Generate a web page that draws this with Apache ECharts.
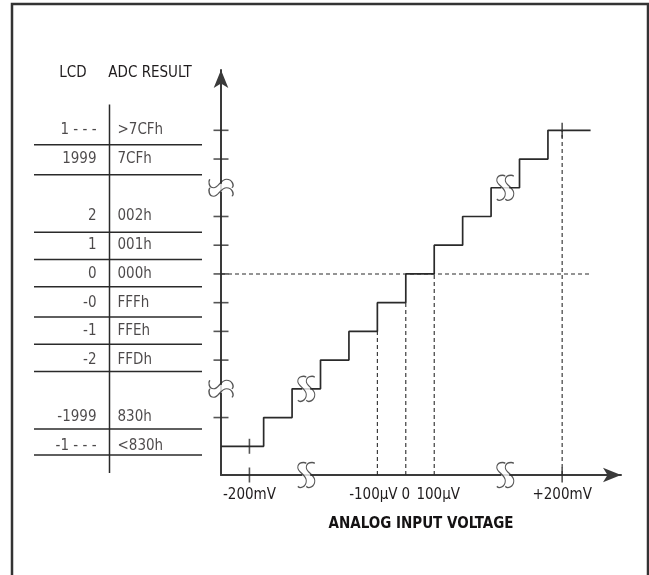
<!DOCTYPE html>
<html>
<head>
<meta charset="utf-8">
<script src="https://cdn.jsdelivr.net/npm/echarts@6/dist/echarts.min.js"></script>
<style>
html, body { margin: 0; padding: 0; background: #fff; }
#chart { width: 649px; height: 575px; }
</style>
</head>
<body>
<div id="chart"></div>
<script>
// transfer function: x = input (step units), level = output code row
const stepX = [0, 1.5, 2.5, 3.5, 4.5, 5.5, 6.5, 7.5, 8.5, 9.5, 10.5, 11.5, 13]
const stepLevel = [0, 1, 2, 3, 4, 5, 6, 7, 8, 9, 10, 11, 11]

// left-hand table
const lcdText = ['1 - - -', '1999', '2', '1', '0', '-0', '-1', '-2', '-1999', '-1 - - -']
const adcText = ['>7CFh', '7CFh', '002h', '001h', '000h', 'FFFh', 'FFEh', 'FFDh', '830h', '<830h']
const rowLevel = [11, 10, 8, 7, 6, 5, 4, 3, 1, 0]
const ruleLevel = [10.5, 9.45, 7.45, 6.5, 5.55, 4.5, 3.55, 2.6, 0.6, -0.3]

const yTickLevel = [1, 3, 4, 5, 6, 7, 8, 10, 11]
const yBreakLevel = [2, 9]
const xBreakPos = [3, 10]
const xTickPos = [1, 12]
const xLabelPos = [1, 5.5, 6.5, 7.5, 12]
const xLabelText = ['-200mV', '-100µV', '0', '100µV', '+200mV']
const dropX = [5.5, 6.5, 7.5, 12]
const dropTop = [4, 5, 6, 11]
const zeroLevel = 6

const INK = '#2a2a2a'
const TXT = '#1f1c1d'
const FONT = "'Liberation Sans Narrow', 'DejaVu Sans Condensed', sans-serif"
const FS = 15
// two elongated S curves side by side
const breakStroke = 'path://M9,1 C7,-0.5 1,0 1,5 C1,10 9,12 9,18 C9,24 3,26 1,23.5 M17,1 C15,-0.5 9,0 9,5 C9,10 17,12 17,18 C17,24 11,26 9,23.5'

function levelAt(x) {
  let lv = stepLevel[0]
  stepX.forEach((sx, i) => { if (x >= sx) lv = stepLevel[i] })
  return lv
}

const chart = echarts.init(document.getElementById('chart'))

const dashed = { color: INK, width: 1.1, type: [4, 3] }
const series = []

// staircase
series.push({
  type: 'line', step: 'end', xAxisIndex: 0, yAxisIndex: 0, symbol: 'none', z: 3,
  data: stepX.map((x, i) => [x, stepLevel[i]]),
  lineStyle: { color: INK, width: 1.7 }
})
// dashed drop lines
dropX.forEach((x, i) => {
  series.push({
    type: 'line', xAxisIndex: 0, yAxisIndex: 0, symbol: 'none', z: 2,
    data: [[x, -1], [x, dropTop[i]]], lineStyle: dashed
  })
})
series.push({
  type: 'line', xAxisIndex: 0, yAxisIndex: 0, symbol: 'none', z: 2,
  data: [[0, zeroLevel], [stepX[stepX.length - 1], zeroLevel]], lineStyle: dashed
})
// ticks crossing the axes and the steps
series.push({
  type: 'scatter', xAxisIndex: 0, yAxisIndex: 0, symbol: 'rect', symbolSize: [15, 1.6], z: 4,
  data: yTickLevel.map(l => [0, l]), itemStyle: { color: INK }
})
series.push({
  type: 'scatter', xAxisIndex: 0, yAxisIndex: 0, symbol: 'rect', symbolSize: [1.6, 15], z: 4,
  data: xTickPos.map(x => [x, -1]).concat(xTickPos.map(x => [x, levelAt(x)])),
  itemStyle: { color: INK }
})
// break marks: white gap, then the S pair
const vBreaks = xBreakPos.map(x => [x, -1]).concat(xBreakPos.map(x => [x, levelAt(x)]))
const hBreaks = yBreakLevel.map(l => [0, l])
series.push({
  type: 'scatter', xAxisIndex: 0, yAxisIndex: 0, symbol: 'rect', symbolSize: [8, 6], z: 5,
  data: vBreaks, itemStyle: { color: '#fff' }
})
series.push({
  type: 'scatter', xAxisIndex: 0, yAxisIndex: 0, symbol: breakStroke, symbolSize: [17, 25], z: 6,
  data: vBreaks, itemStyle: { color: 'transparent', borderColor: INK, borderWidth: 1.2 }
})
series.push({
  type: 'scatter', xAxisIndex: 0, yAxisIndex: 0, symbol: 'rect', symbolSize: [6, 8], z: 5,
  data: hBreaks, itemStyle: { color: '#fff' }
})
series.push({
  type: 'scatter', xAxisIndex: 0, yAxisIndex: 0, symbol: breakStroke, symbolSize: [17, 24], symbolRotate: 90, z: 6,
  data: hBreaks, itemStyle: { color: 'transparent', borderColor: INK, borderWidth: 1.2 }
})

// table rules
ruleLevel.forEach(l => {
  series.push({
    type: 'line', xAxisIndex: 1, yAxisIndex: 1, symbol: 'none',
    data: [[0, l], [168, l]], lineStyle: { color: INK, width: 1.5 }
  })
})
series.push({
  type: 'line', xAxisIndex: 1, yAxisIndex: 1, symbol: 'none',
  data: [[75.5, 11.9], [75.5, -0.93]], lineStyle: { color: INK, width: 1.5 }
})
series.push({
  type: 'scatter', xAxisIndex: 1, yAxisIndex: 1, symbolSize: 1, itemStyle: { color: 'transparent' },
  data: rowLevel.map((l, i) => ({ value: [63, l], name: lcdText[i] })),
  label: { show: true, position: 'left', distance: 0, formatter: '{b}', color: TXT, fontSize: FS, fontFamily: FONT }
})
series.push({
  type: 'scatter', xAxisIndex: 1, yAxisIndex: 1, symbolSize: 1, itemStyle: { color: 'transparent' },
  data: rowLevel.map((l, i) => ({ value: [83, l], name: adcText[i] })),
  label: { show: true, position: 'right', distance: 0, formatter: '{b}', color: TXT, fontSize: FS, fontFamily: FONT }
})

const axisLine = { show: true, onZero: false, symbol: ['none', 'arrow'], symbolSize: [11, 18], lineStyle: { color: '#3a3a3a', width: 2 } }
const labRich = { fontSize: FS, fontFamily: FONT, color: TXT }

chart.setOption({
  animation: false,
  textStyle: { fontFamily: FONT, color: TXT },
  grid: [
    { left: 221, right: 28, top: 70, bottom: 100 },
    { left: 34, width: 168, top: 70, bottom: 100 }
  ],
  xAxis: [
    {
      type: 'value', gridIndex: 0, min: 0, max: 14.07,
      axisLine: axisLine, axisTick: { show: false }, splitLine: { show: false },
      axisLabel: {
        customValues: xLabelPos, margin: 13, fontSize: FS, color: TXT, fontFamily: FONT,
        formatter: v => {
          const i = xLabelPos.indexOf(v)
          if (i === 1) return '{l|' + xLabelText[i] + '}'
          if (i === 3) return '{r|' + xLabelText[i] + '}'
          return '{c|' + xLabelText[i] + '}'
        },
        rich: {
          l: Object.assign({ padding: [0, 8, 0, 0] }, labRich),
          r: Object.assign({ padding: [0, 0, 0, 8] }, labRich),
          c: labRich
        }
      },
      name: 'ANALOG INPUT VOLTAGE', nameLocation: 'middle', nameGap: 42,
      nameTextStyle: { fontSize: 15, fontWeight: 'bold', color: '#141213', fontFamily: FONT }
    },
    { type: 'value', gridIndex: 1, min: 0, max: 168, show: false }
  ],
  yAxis: [
    {
      type: 'value', gridIndex: 0, min: -1, max: 13.1,
      axisLine: axisLine, axisTick: { show: false }, axisLabel: { show: false }, splitLine: { show: false }
    },
    { type: 'value', gridIndex: 1, min: -1, max: 13.1, show: false }
  ],
  graphic: [
    { type: 'rect', silent: true, shape: { x: 12, y: 4, width: 636, height: 620 }, style: { fill: 'none', stroke: '#333', lineWidth: 2.5 } },
    { type: 'text', silent: true, x: 73, y: 73, style: { text: 'LCD', fill: TXT, font: FS + 'px ' + FONT, textAlign: 'center', textVerticalAlign: 'middle' } },
    { type: 'text', silent: true, x: 150, y: 73, style: { text: 'ADC RESULT', fill: TXT, font: FS + 'px ' + FONT, textAlign: 'center', textVerticalAlign: 'middle' } }
  ],
  series: series.map(s => Object.assign({ silent: true }, s))
})
</script>
</body>
</html>
